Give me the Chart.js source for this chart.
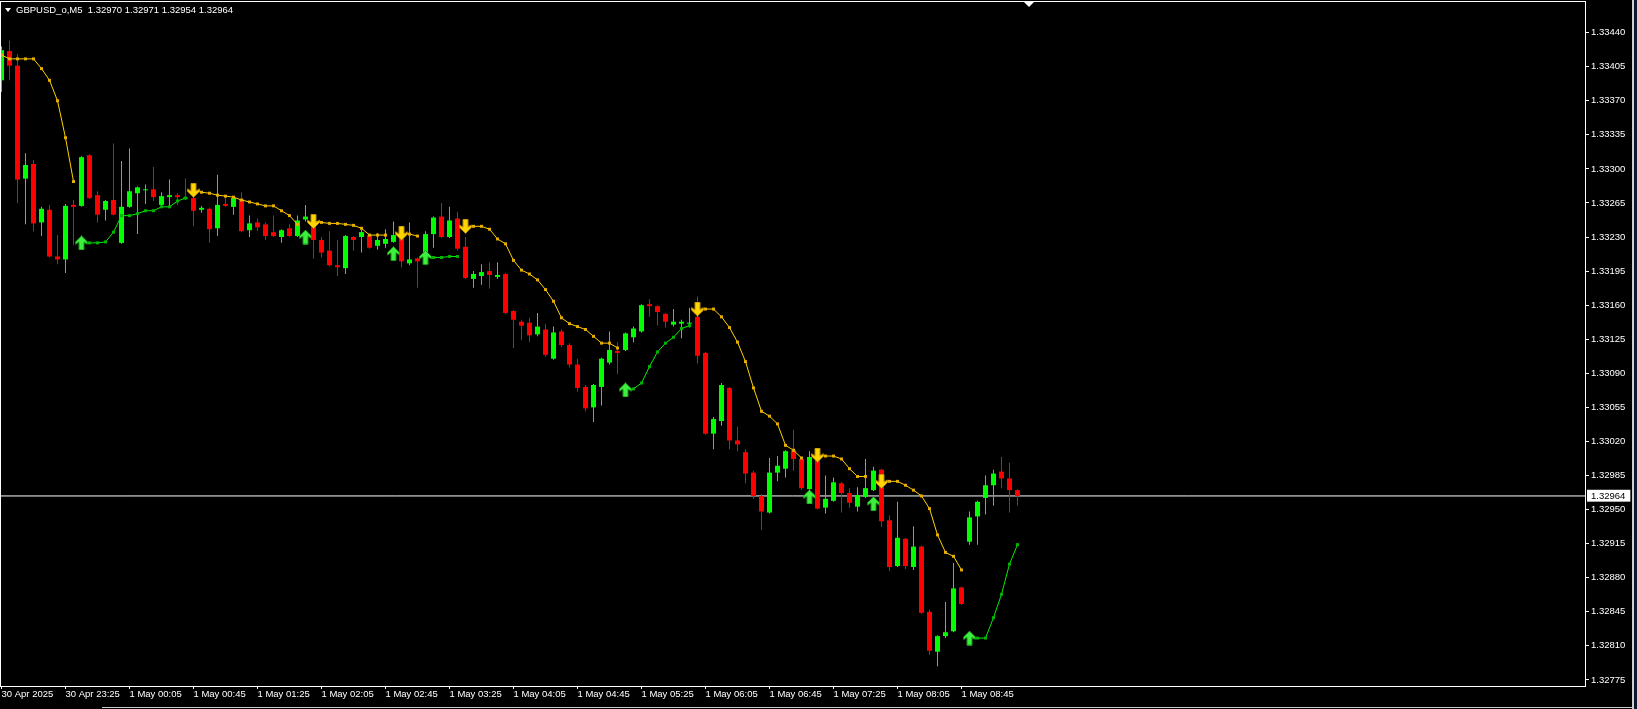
<!DOCTYPE html>
<html><head><meta charset="utf-8">
<script src="https://cdn.jsdelivr.net/npm/chart.js@4.4.0/dist/chart.umd.min.js"></script>
<style>
html,body{margin:0;padding:0;background:#000;overflow:hidden;}
#wrap{position:relative;width:1637px;height:709px;background:#000;}
#c{position:absolute;left:0;top:0;}
#hdr{position:absolute;left:16px;top:4px;font:9.5px "Liberation Sans",Arial,sans-serif;color:#fff;white-space:pre;line-height:11px;}
#hdrTri{position:absolute;left:5px;top:8px;width:0;height:0;border-left:3px solid transparent;border-right:3px solid transparent;border-top:4px solid #fff;}
#shift{position:absolute;left:1024px;top:2px;width:0;height:0;border-left:5px solid transparent;border-right:5px solid transparent;border-top:5px solid #fff;}
#edge{position:absolute;left:1632px;top:0;width:2px;height:709px;background:#cfcfcf;}
#edge2{position:absolute;left:1634px;top:0;width:3px;height:709px;background:#0c1830;}
#bot{position:absolute;left:102px;top:707px;width:1530px;height:1px;background:#cfcfcf;}
</style></head>
<body><div id="wrap"><canvas id="c" width="1637" height="709"></canvas>
<div id="hdrTri"></div><div id="hdr"></div>
<div id="shift"></div><div id="edge"></div><div id="edge2"></div><div id="bot"></div></div>
<script>
const symbolName = 'GBPUSD_o';
const timeframe = 'M5';

const opens = [1.33391,1.33421,1.33406,1.33290,1.33305,1.33245,1.33258,1.33210,1.33207,1.33263,
 1.33262,1.33314,1.33273,1.33258,1.33268,1.33224,1.33261,1.33275,1.33278,1.33279,
 1.33263,1.33271,1.33273,1.33271,1.33270,1.33258,1.33259,1.33239,1.33264,1.33261,
 1.33269,1.33237,1.33245,1.33243,1.33235,1.33230,1.33239,1.33231,1.33248,1.33243,
 1.33227,1.33216,1.33201,1.33198,1.33230,1.33230,1.33232,1.33221,1.33223,1.33225,
 1.33230,1.33203,1.33208,1.33205,1.33233,1.33251,1.33230,1.33249,1.33220,1.33187,
 1.33190,1.33195,1.33189,1.33192,1.33154,1.33143,1.33142,1.33130,1.33135,1.33105,
 1.33133,1.33119,1.33099,1.33076,1.33055,1.33076,1.33101,1.33113,1.33114,1.33127,
 1.33133,1.33161,1.33159,1.33151,1.33140,1.33141,1.33141,1.33148,1.33111,1.33028,
 1.33041,1.33075,1.33021,1.33009,1.32988,1.32964,1.32947,1.32988,1.32992,1.33011,
 1.33002,1.32971,1.33003,1.32952,1.32959,1.32977,1.32967,1.32953,1.32963,1.32970,
 1.32991,1.32939,1.32892,1.32920,1.32891,1.32912,1.32845,1.32804,1.32820,1.32825,
 1.32870,1.32917,1.32943,1.32962,1.32975,1.32989,1.32982,1.32970];

const highs = [1.33426,1.33432,1.33418,1.33316,1.33309,1.33261,1.33263,1.33232,1.33264,1.33268,
 1.33313,1.33315,1.33277,1.33268,1.33326,1.33308,1.33321,1.33282,1.33284,1.33302,
 1.33276,1.33289,1.33275,1.33290,1.33271,1.33262,1.33260,1.33294,1.33271,1.33271,
 1.33276,1.33252,1.33249,1.33245,1.33252,1.33238,1.33243,1.33252,1.33263,1.33244,
 1.33230,1.33236,1.33227,1.33232,1.33231,1.33238,1.33233,1.33234,1.33238,1.33246,
 1.33237,1.33245,1.33209,1.33236,1.33251,1.33265,1.33261,1.33256,1.33230,1.33195,
 1.33202,1.33204,1.33204,1.33193,1.33155,1.33145,1.33147,1.33152,1.33141,1.33138,
 1.33135,1.33121,1.33105,1.33078,1.33079,1.33106,1.33133,1.33122,1.33132,1.33138,
 1.33161,1.33166,1.33160,1.33152,1.33156,1.33145,1.33157,1.33169,1.33112,1.33045,
 1.33080,1.33076,1.33035,1.33012,1.32990,1.32966,1.33003,1.33005,1.33011,1.33032,
 1.33004,1.33010,1.33008,1.32985,1.32983,1.32978,1.32972,1.32973,1.33002,1.32994,
 1.32992,1.32944,1.32958,1.32921,1.32933,1.32913,1.32847,1.32821,1.32855,1.32895,
 1.32871,1.32948,1.32959,1.32985,1.32991,1.33004,1.32998,1.32971];

const lows = [1.33379,1.33391,1.33265,1.33243,1.33236,1.33231,1.33209,1.33202,1.33193,1.33222,
 1.33261,1.33269,1.33245,1.33247,1.33252,1.33223,1.33260,1.33233,1.33264,1.33267,
 1.33261,1.33262,1.33263,1.33268,1.33241,1.33255,1.33224,1.33231,1.33261,1.33253,
 1.33235,1.33230,1.33236,1.33227,1.33230,1.33224,1.33230,1.33230,1.33246,1.33208,
 1.33209,1.33200,1.33190,1.33192,1.33216,1.33214,1.33218,1.33217,1.33219,1.33224,
 1.33199,1.33201,1.33178,1.33201,1.33219,1.33229,1.33229,1.33216,1.33187,1.33178,
 1.33181,1.33177,1.33187,1.33151,1.33116,1.33124,1.33122,1.33128,1.33107,1.33104,
 1.33117,1.33096,1.33071,1.33051,1.33040,1.33057,1.33099,1.33089,1.33113,1.33122,
 1.33132,1.33148,1.33139,1.33137,1.33138,1.33126,1.33137,1.33100,1.33027,1.33012,
 1.33036,1.33012,1.33010,1.32977,1.32961,1.32929,1.32946,1.32979,1.32983,1.32990,
 1.32970,1.32966,1.32950,1.32946,1.32958,1.32947,1.32952,1.32948,1.32962,1.32969,
 1.32932,1.32887,1.32891,1.32889,1.32888,1.32843,1.32801,1.32789,1.32818,1.32824,
 1.32852,1.32914,1.32914,1.32945,1.32954,1.32972,1.32947,1.32954];

const closes = [1.33422,1.33406,1.33289,1.33304,1.33244,1.33259,1.33210,1.33207,1.33262,1.33261,
 1.33312,1.33270,1.33253,1.33267,1.33253,1.33261,1.33277,1.33281,1.33279,1.33271,
 1.33272,1.33273,1.33271,1.33269,1.33257,1.33260,1.33238,1.33263,1.33262,1.33270,
 1.33236,1.33244,1.33240,1.33231,1.33231,1.33237,1.33231,1.33247,1.33251,1.33227,
 1.33214,1.33201,1.33199,1.33231,1.33227,1.33235,1.33219,1.33227,1.33228,1.33232,
 1.33205,1.33207,1.33205,1.33233,1.33250,1.33230,1.33247,1.33218,1.33188,1.33192,
 1.33194,1.33191,1.33191,1.33152,1.33145,1.33139,1.33129,1.33138,1.33109,1.33132,
 1.33119,1.33099,1.33075,1.33054,1.33078,1.33105,1.33114,1.33111,1.33131,1.33136,
 1.33160,1.33159,1.33153,1.33143,1.33143,1.33143,1.33142,1.33108,1.33028,1.33043,
 1.33078,1.33021,1.33017,1.32987,1.32964,1.32948,1.32988,1.32995,1.33010,1.33002,
 1.32972,1.33004,1.32951,1.32961,1.32978,1.32967,1.32957,1.32965,1.32972,1.32990,
 1.32938,1.32891,1.32921,1.32892,1.32912,1.32844,1.32805,1.32820,1.32824,1.32869,
 1.32853,1.32942,1.32958,1.32975,1.32987,1.32982,1.32970,1.32964];

// trailing-stop indicator: upper (yellow) and lower (green) lines, null = no value
const upperLine = [1.33417,1.33413,1.33413,1.33413,1.33413,1.33403,1.33391,1.33370,1.33332,1.33287,
 null,null,null,null,null,null,null,null,null,null,
 null,null,null,null,1.33278,1.33276,1.33275,1.33273,1.33272,1.33271,
 1.33268,1.33266,1.33264,1.33262,1.33262,1.33257,1.33252,1.33243,null,1.33246,
 1.33245,1.33244,1.33244,1.33243,1.33242,1.33239,1.33232,1.33232,1.33232,null,
 1.33234,1.33233,1.33231,null,null,null,null,null,1.33241,1.33241,
 1.33241,1.33238,1.33228,1.33223,1.33206,1.33196,1.33192,1.33186,1.33176,1.33164,
 1.33147,1.33141,1.33138,1.33135,1.33128,1.33121,1.33121,1.33116,null,null,
 null,null,null,null,null,null,null,1.33156,1.33156,1.33156,
 1.33148,1.33137,1.33122,1.33102,1.33075,1.33051,1.33046,1.33038,1.33016,1.33011,
 1.33003,null,1.33006,1.33005,1.33005,1.33002,1.32992,1.32984,1.32984,null,
 1.32979,1.32979,1.32979,1.32975,1.32970,1.32964,1.32951,1.32924,1.32906,1.32902,
 1.32888,null,null,null,null,null,null,null];

const lowerLine = [null,null,null,null,null,null,null,null,null,null,
 1.33224,1.33224,1.33224,1.33225,1.33235,1.33252,1.33252,1.33254,1.33257,1.33257,
 1.33261,1.33261,1.33267,1.33270,null,null,null,null,null,null,
 null,null,null,null,null,null,null,null,1.33230,null,
 null,null,null,null,null,null,null,null,null,1.33213,
 null,null,null,1.33209,1.33209,1.33209,1.33210,1.33210,null,null,
 null,null,null,null,null,null,null,null,null,null,
 null,null,null,null,null,null,null,null,1.33073,1.33074,
 1.33080,1.33097,1.33112,1.33121,1.33127,1.33136,1.33139,null,null,null,
 null,null,null,null,null,null,null,null,null,null,
 null,1.32963,null,null,null,null,null,null,null,1.32956,
 null,null,null,null,null,null,null,null,null,null,
 null,1.32818,1.32818,1.32818,1.32839,1.32863,1.32894,1.32914];

const sellArrowBars = [24, 39, 50, 58, 87, 102, 110];
const buyArrowBars = [10, 38, 49, 53, 78, 101, 109, 121];

const timeTickBars = [0, 8, 16, 24, 32, 40, 48, 56, 64, 72, 80, 88, 96, 104, 112, 120];
const timeTickLabels = ['30 Apr 2025','30 Apr 23:25','1 May 00:05','1 May 00:45','1 May 01:25','1 May 02:05',
 '1 May 02:45','1 May 03:25','1 May 04:05','1 May 04:45','1 May 05:25','1 May 06:05','1 May 06:45',
 '1 May 07:25','1 May 08:05','1 May 08:45'];
const priceTicks = [1.32775,1.32810,1.32845,1.32880,1.32915,1.32950,1.32985,1.33020,1.33055,1.33090,
 1.33125,1.33160,1.33195,1.33230,1.33265,1.33300,1.33335,1.33370,1.33405,1.33440];

const last = closes.length - 1;
const lastPrice = closes[last];

document.getElementById('hdr').textContent = symbolName + ',' + timeframe + '  ' +
  [opens[last], highs[last], lows[last], closes[last]].map(v => v.toFixed(5)).join(' ');

// ---------- derived structures ----------
const X_MIN = -0.1875, X_MAX = 197.9375;
const Y_MIN = 1.3276877, Y_MAX = 1.3347144;
const FONT = {family: "'Liberation Sans', Arial, sans-serif", size: 9.5};

const candleColors = opens.map((o, i) => closes[i] >= o ? '#00FF00' : '#FF0000');
const bodyData = opens.map((o, i) => ({x: i, y: [o, closes[i]]}));
const wickData = lows.map((l, i) => ({x: i, y: [l, highs[i]]}));
const upperData = upperLine.map((v, i) => ({x: i, y: v}));
const lowerData = lowerLine.map((v, i) => ({x: i, y: v}));
const sellData = sellArrowBars.map(i => ({x: i, y: upperLine[i]}));
const buyData = buyArrowBars.map(i => ({x: i, y: lowerLine[i]}));

function makeArrow(up, fill, edge) {
  const c = document.createElement('canvas');
  c.width = 13; c.height = 15;
  const g = c.getContext('2d');
  const pts = [[6.5,0.5],[12.5,6.5],[12.5,8.8],[9,6.8],[9,14.5],[4,14.5],[4,6.8],[0.5,8.8],[0.5,6.5]];
  g.beginPath();
  pts.forEach(([px, py], i) => {
    const yy = up ? py : 15 - py;
    if (i) g.lineTo(px, yy); else g.moveTo(px, yy);
  });
  g.closePath();
  g.fillStyle = fill; g.fill();
  g.strokeStyle = edge; g.lineWidth = 1; g.stroke();
  return c;
}
const upArrow = makeArrow(true, '#3DF03D', '#149414');
const downArrow = makeArrow(false, '#FFD400', '#B88C00');

const framePlugin = {
  id: 'frame',
  afterDraw(chart) {
    const {ctx, chartArea: a} = chart;
    ctx.save();
    ctx.strokeStyle = '#FFFFFF';
    ctx.lineWidth = 1;
    ctx.strokeRect(a.left + 0.5, a.top - 0.5, a.right - a.left, a.bottom - a.top + 1);
    ctx.restore();
  }
};

const isLast = c => !!(c && c.tick && c.tick.value === lastPrice);

new Chart(document.getElementById('c'), {
  type: 'bar',
  data: {
    datasets: [
      {type: 'line', data: [{x: X_MIN, y: lastPrice}, {x: X_MAX, y: lastPrice}],
       borderColor: '#FFFFFF', borderWidth: 1, pointRadius: 0, order: 6},
      {type: 'bar', data: wickData, backgroundColor: candleColors, grouped: false,
       categoryPercentage: 1, barPercentage: 0.125, maxBarThickness: 1, inflateAmount: 0,
       borderWidth: 0, minBarLength: 1, order: 5},
      {type: 'bar', data: bodyData, backgroundColor: candleColors, grouped: false,
       categoryPercentage: 1, barPercentage: 0.625, maxBarThickness: 5, inflateAmount: 0,
       borderWidth: 0, minBarLength: 1, order: 4},
      {type: 'line', data: upperData, borderColor: '#FFD200', borderWidth: 1, tension: 0,
       spanGaps: false, pointStyle: 'rect', pointRadius: 2.1, pointBackgroundColor: '#E6AE00',
       pointBorderWidth: 0, order: 3},
      {type: 'line', data: lowerData, borderColor: '#00EE00', borderWidth: 1, tension: 0,
       spanGaps: false, pointStyle: 'rect', pointRadius: 2.1, pointBackgroundColor: '#00B400',
       pointBorderWidth: 0, order: 2},
      {type: 'line', data: sellData, showLine: false, pointStyle: downArrow, pointRadius: 7, order: 1},
      {type: 'line', data: buyData, showLine: false, pointStyle: upArrow, pointRadius: 7, order: 0}
    ]
  },
  options: {
    responsive: false,
    animation: false,
    events: [],
    layout: {autoPadding: false, padding: {top: 2, left: 0, right: 0, bottom: 0}},
    plugins: {legend: {display: false}, tooltip: {enabled: false}},
    scales: {
      x: {
        type: 'linear', min: X_MIN, max: X_MAX, offset: false, bounds: 'data',
        grid: {display: true, offset: false, drawOnChartArea: false, drawTicks: true,
               tickLength: 3, tickColor: '#FFFFFF', color: '#FFFFFF', tickWidth: 1},
        border: {display: false},
        afterBuildTicks: s => { s.ticks = timeTickBars.map(v => ({value: v})); },
        ticks: {autoSkip: false, maxRotation: 0, minRotation: 0, align: 'start', padding: 0,
                color: '#FFFFFF', font: FONT, callback: (v, i) => timeTickLabels[i]},
        afterFit: s => { s.height = 23; s.paddingLeft = 0; s.paddingRight = 0; }
      },
      y: {
        type: 'linear', position: 'right', min: Y_MIN, max: Y_MAX, bounds: 'data',
        grid: {display: true, drawOnChartArea: false, drawTicks: true, tickLength: 4,
               tickColor: c => isLast(c) ? 'rgba(0,0,0,0)' : '#FFFFFF', tickWidth: 1},
        border: {display: false},
        afterBuildTicks: s => {
          s.ticks = priceTicks.concat([lastPrice]).sort((a, b) => a - b).map(v => ({value: v}));
        },
        ticks: {autoSkip: false, padding: 2, font: FONT,
                color: c => isLast(c) ? '#000000' : '#FFFFFF',
                showLabelBackdrop: c => isLast(c),
                backdropColor: '#FFFFFF',
                backdropPadding: {left: 4, right: 5, top: 0.5, bottom: 0},
                callback: v => Number(v).toFixed(5)},
        afterFit: s => { s.width = 52; s.paddingTop = 0; s.paddingBottom = 0; }
      }
    }
  },
  plugins: [framePlugin]
});
</script>
</body></html>
